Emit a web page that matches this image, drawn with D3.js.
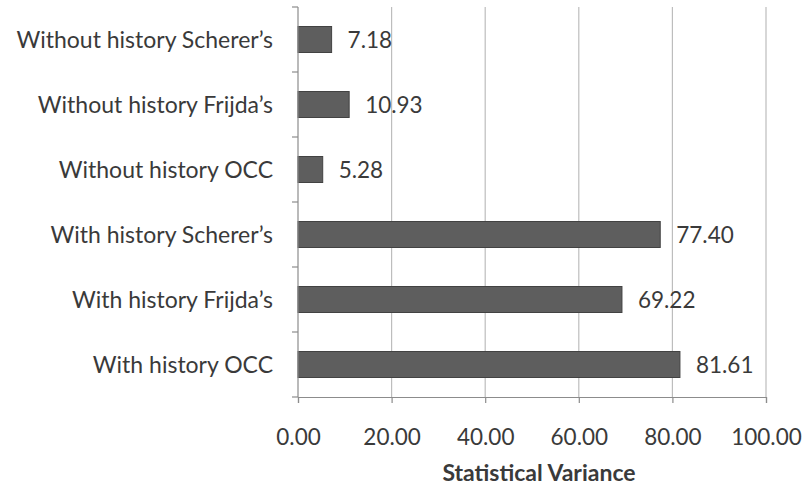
<!DOCTYPE html>
<html>
<head>
<meta charset="utf-8">
<script src="https://cdn.jsdelivr.net/npm/d3@7"></script>
<style>
  body { margin: 0; background: #fff; }
  text { font-family: Lato, "Open Sans", sans-serif; fill: #3a3a3a; }
</style>
</head>
<body>
<svg id="chart" width="811" height="486"></svg>
<script>
// data, top to bottom as drawn
var categories = ["Without history Scherer\u2019s", "Without history Frijda\u2019s", "Without history OCC",
    "With history Scherer\u2019s", "With history Frijda\u2019s", "With history OCC"];
var values = [7.18, 10.93, 5.28, 77.40, 69.22, 81.61];
var xTicks = [0, 20, 40, 60, 80, 100];

var svg = d3.select('#chart');
var margin = { top: 7, left: 298, right: 45, bottom: 89 };
var w = 811 - margin.left - margin.right;
var h = 486 - margin.top - margin.bottom;
var g = svg.append('g').attr('transform', 'translate(' + margin.left + ',' + margin.top + ')');

var x = d3.scaleLinear().domain([0, 100]).range([0, w]);
var y = d3.scaleBand().domain(categories).range([0, h]).paddingInner(0.6).paddingOuter(0.3);

// grid
g.selectAll('.grid').data(xTicks.slice(1)).enter().append('line')
    .attr('x1', d => x(d)).attr('x2', d => x(d))
    .attr('y1', 0).attr('y2', h)
    .attr('stroke', '#bdbdbd').attr('stroke-width', 1.2);

// bars
g.selectAll('.bar').data(values).enter().append('rect')
    .attr('x', 0)
    .attr('y', (d, i) => y(categories[i]))
    .attr('width', d => x(d))
    .attr('height', y.bandwidth())
    .attr('fill', '#5e5e5e')
    .attr('stroke', '#424242').attr('stroke-width', 1);

// value labels
g.selectAll('.val').data(values).enter().append('text')
    .attr('x', d => x(d) + 16)
    .attr('y', (d, i) => y(categories[i]) + y.bandwidth() / 2 + 1)
    .attr('dy', '0.35em')
    .style('font-size', '22.5px')
    .text(d => d.toFixed(2));

// y axis with ticks between categories
var yTickPos = d3.range(categories.length + 1).map(i => i * h / categories.length);
g.append('line').attr('x1', 0).attr('x2', 0).attr('y1', 0).attr('y2', h).attr('stroke', '#8c8c8c').attr('stroke-width', 1.2);
g.selectAll('.ytick').data(yTickPos).enter().append('line')
    .attr('x1', -6).attr('x2', 0).attr('y1', d => d).attr('y2', d => d)
    .attr('stroke', '#8c8c8c').attr('stroke-width', 1.2);
g.selectAll('.cat').data(categories).enter().append('text')
    .attr('x', -25)
    .attr('y', d => y(d) + y.bandwidth() / 2)
    .attr('dy', '0.35em')
    .attr('text-anchor', 'end')
    .style('font-size', '23px')
    .text(d => d);

// x axis
var xAxis = g.append('g').attr('transform', 'translate(0,' + h + ')')
    .call(d3.axisBottom(x).tickValues(xTicks).tickFormat(d3.format('.2f')).tickSize(6));
xAxis.select('.domain').attr('stroke', '#8c8c8c').attr('stroke-width', 1.2);
xAxis.selectAll('.tick line').attr('stroke', '#8c8c8c').attr('stroke-width', 1.2);
xAxis.selectAll('text').attr('y', 40).attr('dy', '0.35em')
    .style('font-size', '22.5px').attr('fill', '#3a3a3a')
    .style('font-family', 'Lato, "Open Sans", sans-serif');

svg.append('text')
    .attr('x', margin.left + w / 2 + 7).attr('y', 481)
    .attr('text-anchor', 'middle')
    .style('font-size', '23px').style('font-weight', 'bold')
    .text('Statistical Variance');
</script>
</body>
</html>
